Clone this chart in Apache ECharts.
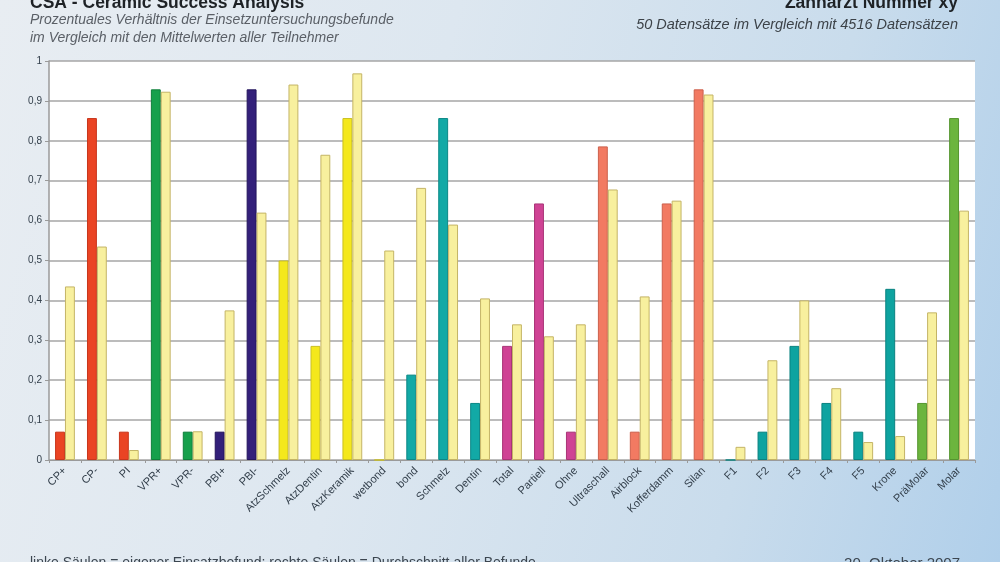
<!DOCTYPE html>
<html>
<head>
<meta charset="utf-8">
<script src="https://cdn.jsdelivr.net/npm/echarts@6/dist/echarts.min.js"></script>
<style>
  html, body { margin: 0; padding: 0; }
  body {
    width: 1000px; height: 562px; overflow: hidden;
    background: linear-gradient(105deg, #e8edf2 0%, #dde7f0 40%, #c9dcec 75%, #b0cfea 100%);
  }
  #chart { width: 1000px; height: 562px; }
</style>
</head>
<body>
<div id="chart"></div>
<script>
// Kategorien (x-Achse)
var categories = ['CP+', 'CP-', 'PI', 'VPR+', 'VPR-', 'PBI+', 'PBI-', 'AtzSchmelz', 'AtzDentin', 'AtzKeramik',
    'wetbond', 'bond', 'Schmelz', 'Dentin', 'Total', 'Partiell', 'Ohne', 'Ultraschall', 'Airblock',
    'Kofferdamm', 'Silan', 'F1', 'F2', 'F3', 'F4', 'F5', 'Krone', 'PräMolar', 'Molar'];

// linke Säulen: eigener Einsatzbefund
var ownValues = [0.071, 0.857, 0.071, 0.929, 0.071, 0.071, 0.929, 0.5, 0.286, 0.857,
    0, 0.214, 0.857, 0.143, 0.286, 0.643, 0.071, 0.786, 0.071,
    0.643, 0.929, 0, 0.071, 0.286, 0.143, 0.071, 0.429, 0.143, 0.857];

// rechte Säulen: Durchschnitt aller Befunde
var avgValues = [0.435, 0.535, 0.025, 0.923, 0.072, 0.375, 0.62, 0.941, 0.765, 0.969,
    0.525, 0.682, 0.59, 0.405, 0.34, 0.31, 0.34, 0.678, 0.41,
    0.65, 0.916, 0.033, 0.25, 0.4, 0.18, 0.045, 0.06, 0.37, 0.625];

// Gruppe je Kategorie -> Farbe
var groups = ['rot', 'rot', 'rot', 'gruen', 'gruen', 'lila', 'lila', 'gelb', 'gelb', 'gelb',
    'gelb', 'tuerkis', 'tuerkis', 'tuerkis', 'magenta', 'magenta', 'magenta', 'lachs', 'lachs',
    'lachs', 'lachs', 'petrol', 'petrol', 'petrol', 'petrol', 'petrol', 'petrol', 'hellgruen', 'hellgruen'];

var yTicks = [0, 0.1, 0.2, 0.3, 0.4, 0.5, 0.6, 0.7, 0.8, 0.9, 1];

var groupColors = {
    rot: ['#ea4424', '#c8361c'],
    gruen: ['#16a04c', '#0f7f3b'],
    lila: ['#33207a', '#23145c'],
    gelb: ['#f4e81c', '#c9bf22'],
    tuerkis: ['#12a9a6', '#0c8886'],
    magenta: ['#cf4394', '#a83476'],
    lachs: ['#f27a62', '#cc604c'],
    petrol: ['#0ea3a0', '#0a8280'],
    hellgruen: ['#6cb53e', '#55952f']
};

var myChart = echarts.init(document.getElementById('chart'), null, { renderer: 'canvas' });
var font = '"Liberation Sans", Arial, sans-serif';

var ownData = ownValues.map(function(v, i) {
    var c = groupColors[groups[i]];
    return { value: v, itemStyle: { color: c[0], borderColor: c[1] } };
});

var option = {
    animation: false,
    textStyle: { fontFamily: font },
    grid: {
        left: 49, right: 25, top: 61, bottom: 102,
        show: true, backgroundColor: '#ffffff', borderWidth: 0
    },
    xAxis: {
        type: 'category',
        data: categories,
        axisLine: { lineStyle: { color: '#9a9a9a', width: 1 } },
        axisTick: { show: true, length: 3, lineStyle: { color: '#9a9a9a' } },
        axisLabel: { interval: 0, rotate: 45, fontSize: 11, color: '#34404c', margin: 9, fontFamily: font }
    },
    yAxis: {
        type: 'value',
        min: 0, max: 1, interval: 0.1,
        axisLine: { show: true, lineStyle: { color: '#9a9a9a', width: 1.5 } },
        axisTick: { show: true, length: 4, lineStyle: { color: '#9a9a9a' } },
        axisLabel: {
            fontSize: 10, color: '#34404c', margin: 7, fontFamily: font,
            formatter: function(v) {
                var t = yTicks.find(function(x) { return Math.abs(x - v) < 1e-6; });
                return String(t === undefined ? v : t).replace('.', ',');
            }
        },
        splitLine: { lineStyle: { color: '#a6a6a6', width: 1.5 } }
    },
    series: [{
        name: 'eigener Einsatzbefund',
        type: 'bar',
        data: ownData,
        barGap: '0%',
        barCategoryGap: '38%',
        itemStyle: { borderWidth: 1 }
    }, {
        name: 'Durchschnitt aller Befunde',
        type: 'bar',
        data: avgValues,
        itemStyle: { color: '#f8f09e', borderColor: '#c4b466', borderWidth: 1 }
    }],
    graphic: [
        { type: 'text', left: 30, top: -6, style: { text: 'CSA - Ceramic Success Analysis', font: 'bold 17.5px ' + font, fill: '#1e2226' } },
        { type: 'text', left: 30, top: 13, style: { text: 'Prozentuales Verhältnis der Einsetzuntersuchungsbefunde', font: 'italic 14px ' + font, fill: '#5a5f66' } },
        { type: 'text', left: 30, top: 31, style: { text: 'im Vergleich mit den Mittelwerten aller Teilnehmer', font: 'italic 14px ' + font, fill: '#5a5f66' } },
        { type: 'text', right: 42, top: -6, style: { text: 'Zahnarzt Nummer xy', font: 'bold 17.5px ' + font, fill: '#1e2226' } },
        { type: 'text', right: 42, top: 17, style: { text: '50 Datensätze im Vergleich mit 4516 Datensätzen', font: 'italic 14.5px ' + font, fill: '#3c4248' } },
        { type: 'text', left: 30, top: 556, style: { text: 'linke Säulen = eigener Einsatzbefund; rechte Säulen = Durchschnitt aller Befunde', font: '14px ' + font, fill: '#3c4650' } },
        { type: 'text', right: 40, top: 556, style: { text: '20. Oktober 2007', font: '15px ' + font, fill: '#3c4650' } }
    ]
};
myChart.setOption(option);
</script>
</body>
</html>
